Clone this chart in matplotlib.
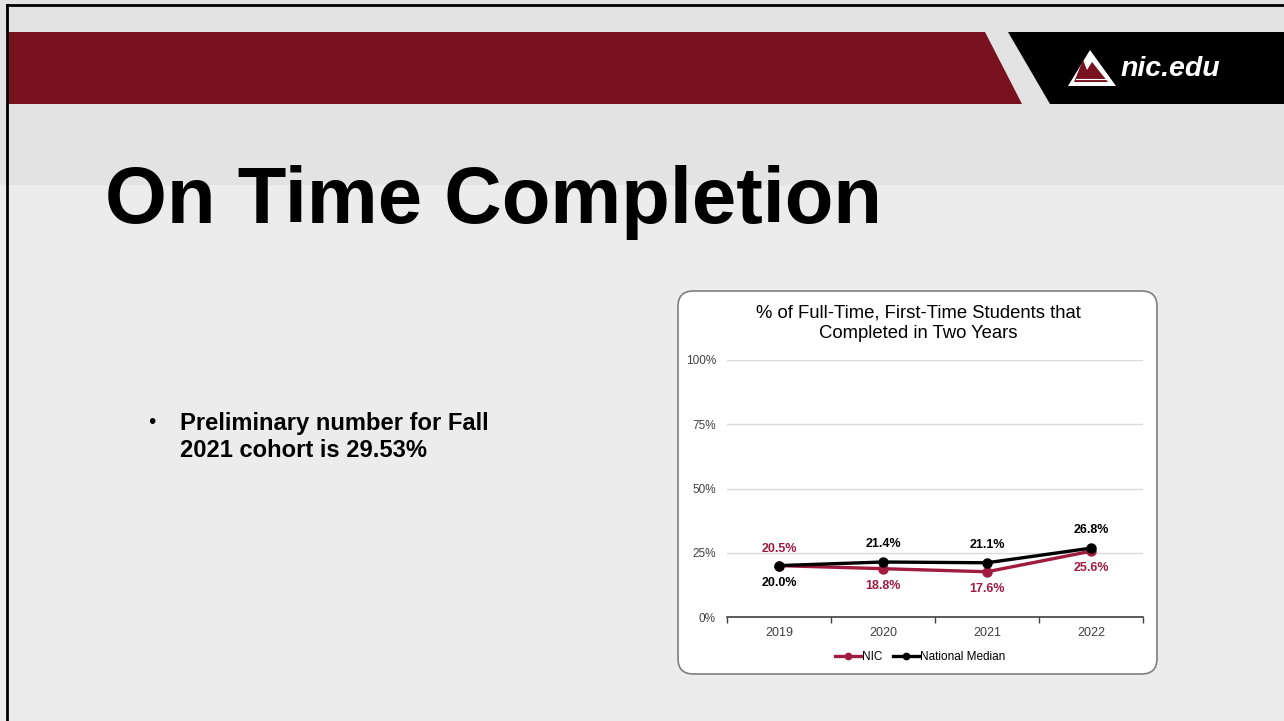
import matplotlib.pyplot as plt
from matplotlib.patches import Polygon, FancyBboxPatch
from matplotlib.lines import Line2D

# chart data
years = ['2019', '2020', '2021', '2022']
nic = [20.0, 18.8, 17.6, 25.6]
national = [20.0, 21.4, 21.1, 26.8]
nic_labels = ['20.5%', '18.8%', '17.6%', '25.6%']
national_labels = ['20.0%', '21.4%', '21.1%', '26.8%']
nic_label_above = [True, False, False, False]
yticks = [0, 25, 50, 75, 100]

W, H = 1284, 721
maroon = '#78121f'
nic_color = '#a01c3f'

plt.rcParams['font.family'] = ['Liberation Sans', 'DejaVu Sans']

fig = plt.figure(figsize=(W / 100, H / 100), dpi=100)
fig.patch.set_facecolor('#ececec')


def fx(x):
    return x / W


def fy(y):
    return 1 - y / H


def poly(pts, color, z=0):
    fig.patches.append(Polygon([(fx(x), fy(y)) for x, y in pts], closed=True,
                               transform=fig.transFigure, facecolor=color,
                               edgecolor='none', zorder=z))


# slide background
poly([(0, 0), (W, 0), (W, 185), (0, 185)], '#e3e3e3')
poly([(8, 32), (985, 32), (1022, 104), (8, 104)], maroon, 1)
poly([(1008, 32), (W, 32), (W, 104), (1050, 104)], 'black', 1)
# frame lines
fig.add_artist(Line2D([fx(7), fx(7)], [0, fy(5)], color='black', lw=2, transform=fig.transFigure))
fig.add_artist(Line2D([fx(7), 1], [fy(5), fy(5)], color='black', lw=2, transform=fig.transFigure))

# logo
poly([(1068, 86), (1090, 50), (1116, 86)], 'white', 2)
poly([(1074, 82), (1083, 60), (1087, 70), (1092, 62), (1108, 82)], maroon, 3)
fig.add_artist(Line2D([fx(1076), fx(1106)], [fy(79), fy(79)], color='white', lw=0.8,
                      transform=fig.transFigure, zorder=4))
fig.text(fx(1121), fy(69), 'nic.edu', color='white', fontsize=20.5, fontweight='bold',
         style='italic', va='center', ha='left')

# slide title and bullet
fig.text(fx(105), fy(203), 'On Time Completion', fontsize=57.3, fontweight='bold',
         va='center', ha='left')
fig.text(fx(148), fy(423), '\u2022', fontsize=15, va='center', ha='left')
fig.text(fx(180), fy(437), 'Preliminary number for Fall\n2021 cohort is 29.53%',
         fontsize=17.1, fontweight='bold', va='center', ha='left', linespacing=1.2)

# chart box
fig.patches.append(FancyBboxPatch((fx(678), fy(674)), fx(479), 383 / H,
                                  boxstyle='round,pad=0,rounding_size=0.012',
                                  transform=fig.transFigure, facecolor='white',
                                  edgecolor='#7f7f7f', lw=1.2, zorder=1,
                                  mutation_aspect=W / H))

fig.text(fx(918), fy(323), '% of Full-Time, First-Time Students that\nCompleted in Two Years',
         fontsize=13.3, ha='center', va='center', linespacing=1.3, zorder=5)

ax = fig.add_axes([fx(727), fy(617), 416 / W, 257 / H])
ax.set_facecolor('none')
ax.set_zorder(5)
x = range(len(years))
ax.plot(x, nic, color=nic_color, lw=2.4, marker='o', ms=6.5, label='NIC', zorder=3)
ax.plot(x, national, color='black', lw=2.4, marker='o', ms=6.5, label='National Median', zorder=4)

for i in x:
    off_n = 17 if nic_label_above[i] else -17
    ax.annotate(nic_labels[i], (i, nic[i]), xytext=(0, off_n), textcoords='offset pixels',
                ha='center', va='center', color=nic_color, fontsize=9, fontweight='bold')
    off_b = -17 if nic_label_above[i] else 18
    ax.annotate(national_labels[i], (i, national[i]), xytext=(0, off_b), textcoords='offset pixels',
                ha='center', va='center', color='black', fontsize=9, fontweight='bold')

ax.set_xlim(-0.5, len(years) - 0.5)
ax.set_ylim(0, 100)
ax.set_yticks(yticks)
ax.set_yticklabels([f'{v}%' for v in yticks], fontsize=8.5, color='#404040')
ax.set_xticks(x)
ax.set_xticklabels(years, fontsize=9, color='#404040')
ax.set_xticks([i - 0.5 for i in range(len(years) + 1)], minor=True)
ax.tick_params(axis='y', length=0, pad=8)
ax.tick_params(axis='x', which='major', length=0, pad=7)
ax.tick_params(axis='x', which='minor', length=4, color='#404040', width=1)
ax.grid(axis='y', color='#d9d9d9', lw=1)
for s in ['top', 'right', 'left']:
    ax.spines[s].set_visible(False)
ax.spines['bottom'].set_color('#404040')
ax.spines['bottom'].set_linewidth(1.2)

fig.legend(handles=ax.lines, loc='center', bbox_to_anchor=(fx(920), fy(657)),
           ncol=2, frameon=False, fontsize=8.5, handlelength=2.2, handletextpad=0.1,
           columnspacing=0.9, markerscale=0.7)

fig.savefig('out.png', dpi=100, facecolor=fig.get_facecolor())
